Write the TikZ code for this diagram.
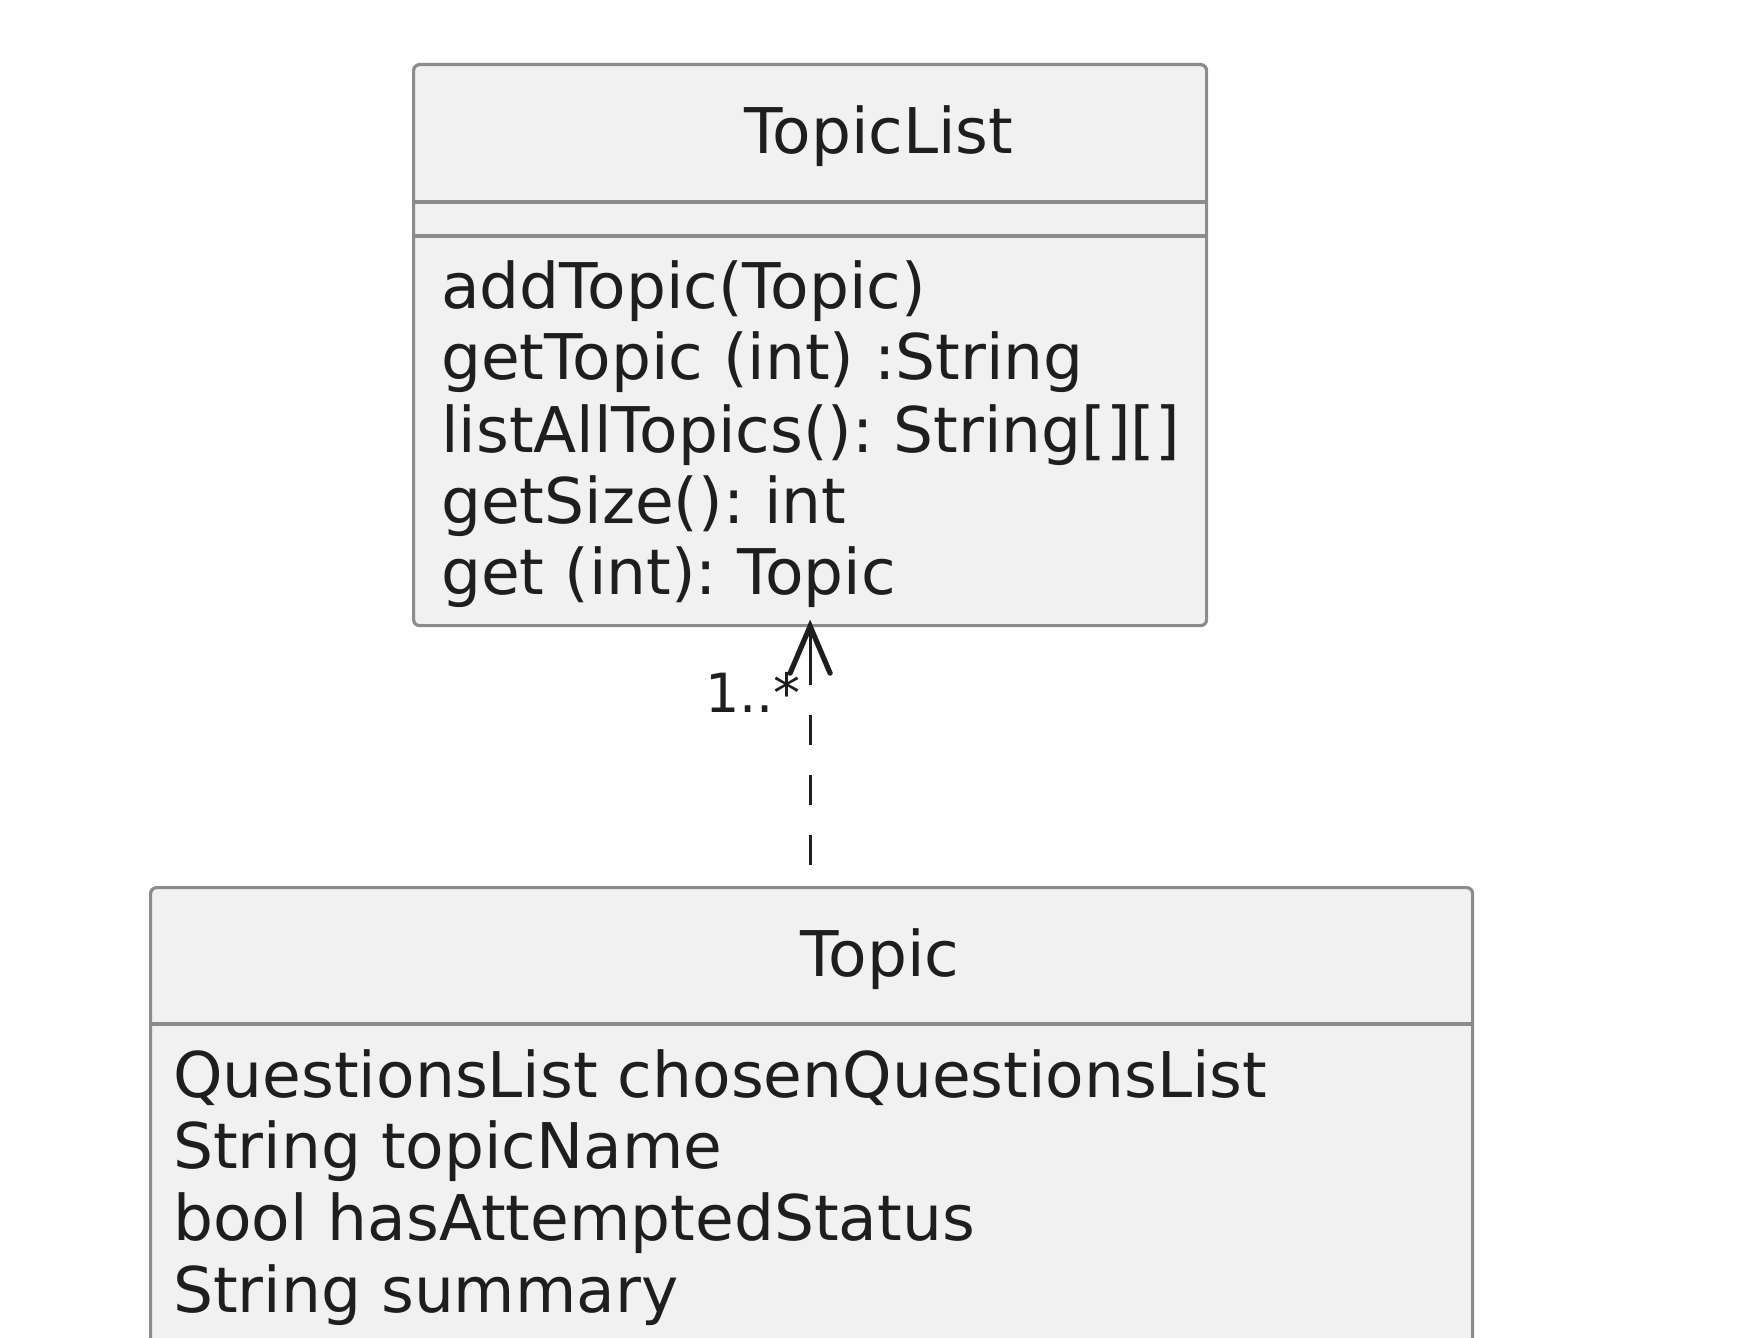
\documentclass[tikz,border=0pt]{standalone}
\usepackage{fontspec}
\setmainfont{DejaVu Sans}
\usetikzlibrary{calc}
\frenchspacing
\definecolor{boxfill}{HTML}{F1F1F1}
\definecolor{boxline}{HTML}{8C8C8C}
\definecolor{ink}{HTML}{1E1E1E}
\tikzset{
  umlbox/.style={draw=boxline, fill=boxfill, line width=3.2pt, rounded corners=6pt, inner sep=0pt, anchor=north west},
  divider/.style={draw=boxline, line width=3.2pt},
  member/.style={anchor=base west, inner sep=0pt, text=ink, font=\fontsize{63}{72}\selectfont},
  classtitle/.style={anchor=base, inner sep=0pt, text=ink, font=\fontsize{63}{72}\selectfont},
  mult/.style={anchor=base east, inner sep=0pt, text=ink, font=\fontsize{54}{60}\selectfont},
  dep/.style={draw=ink, line width=3.2pt, dash pattern=on 30pt off 30pt, dash phase=39pt},
  headline/.style={draw=ink, line width=3.2pt},
  headarms/.style={draw=ink, line width=5.2pt, line join=miter, line cap=round}
}
\begin{document}
\begin{tikzpicture}[x=1pt,y=-1pt]
\useasboundingbox (0,0) rectangle (1756,1338);
\clip (0,0) rectangle (1756,1338);
\fill[white] (0,0) rectangle (1756,1338);

% TopicList class
\node[umlbox, minimum width=793pt, minimum height=561pt] (topiclist) at (412,63) {};
\draw[divider] (412,202) -- (1205,202);
\draw[divider] (412,236) -- (1205,236);
\node[classtitle] (tltitle) at (879,153) {TopicList};
\node[member] (tl1) at (441,308) {addTopic(Topic)};
\node[member] (tl2) at (441,379) {getTopic (int) :String};
\node[member] (tl3) at (441,452) {listAllTopics(): String[][]};
\node[member] (tl4) at (441,523) {getSize(): int};
\node[member] (tl5) at (441,594) {get (int): Topic};

% Topic class
\node[umlbox, minimum width=1322pt, minimum height=620pt] (topic) at (149,886) {};
\draw[divider] (149,1024) -- (1471,1024);
\node[classtitle] (tptitle) at (880,976) {Topic};
\node[member] (tp1) at (173,1097) {QuestionsList chosenQuestionsList};
\node[member] (tp2) at (173,1168) {String topicName};
\node[member] (tp3) at (173,1240) {bool hasAttemptedStatus};
\node[member] (tp4) at (173,1312) {String summary};

% dependency
\coordinate (tip) at ($(topiclist.south)+(0,-1)$);
\coordinate (tail) at (topiclist.south |- topic.north);
\coordinate (shaftend) at ($(tip)+(0,58)$);
\draw[dep] (tail) -- (shaftend);
\draw[headline] (shaftend) -- (tip);
\draw[headarms] ($(tip)+(-20,47)$) -- (tip) -- ($(tip)+(20,47)$);
\node[mult] (multlabel) at (801,712) {1..*};
\end{tikzpicture}
\end{document}
